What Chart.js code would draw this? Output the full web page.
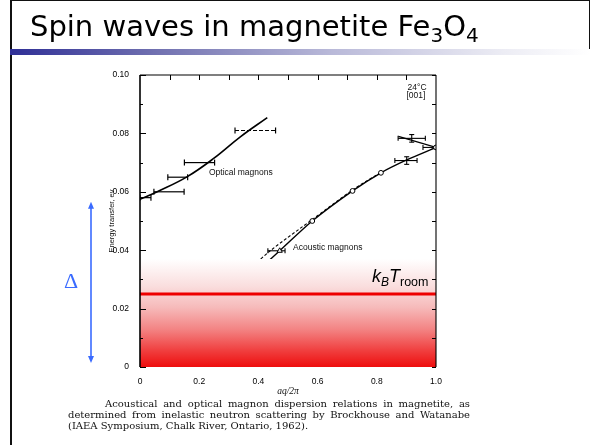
<!DOCTYPE html>
<html>
<head>
<meta charset="utf-8">
<script src="https://cdn.jsdelivr.net/npm/chart.js@4"></script>
<style>
  html, body { margin: 0; padding: 0; background: #fff; }
  #slide { position: relative; width: 600px; height: 445px; overflow: hidden; }
  #chart { position: absolute; left: 0; top: 0; }
  .frame-left { position: absolute; left: 10px; top: 0; width: 2px; height: 445px; background: #111; }
  .frame-top { position: absolute; left: 10px; top: 0; width: 580px; height: 1px; background: #111; }
  .frame-right { position: absolute; left: 589px; top: 0; width: 1px; height: 50px; background: #111; }
  .title-bar {
    position: absolute; left: 10px; top: 49px; width: 580px; height: 6px;
    background: linear-gradient(to right, #2f2f96 0%, #7070b0 25%, #b8b8d8 55%, #ececf4 85%, #ffffff 100%);
  }
  .title {
    position: absolute; left: 30px; top: 9px;
    font-family: "DejaVu Sans", sans-serif; font-size: 29px; color: #000; white-space: nowrap;
  }
  .title sub { font-size: 20px; vertical-align: -6px; line-height: 0; }
  .caption {
    position: absolute; left: 68px; top: 398px; width: 402px;
    font-family: "DejaVu Serif", serif; font-size: 10px; line-height: 11px; color: #111;
  }
  .caption div { white-space: nowrap; text-align: justify; text-align-last: justify; }
  .caption div.first { padding-left: 37px; }
  .caption div.last { text-align-last: left; }
</style>
</head>
<body>
<div id="slide">
  <canvas id="chart" width="600" height="445"></canvas>
  <div class="frame-left"></div>
  <div class="frame-top"></div>
  <div class="frame-right"></div>
  <div class="title-bar"></div>
  <div class="title">Spin waves in magnetite Fe<sub>3</sub>O<sub>4</sub></div>
  <div class="caption">
    <div class="first">Acoustical and optical magnon dispersion relations in magnetite, as</div>
    <div>determined from inelastic neutron scattering by Brockhouse and Watanabe</div>
    <div class="last">(IAEA Symposium, Chalk River, Ontario, 1962).</div>
  </div>
</div>
<script>
// ---- optical branch ----
const opticalCurveX = [0, 0.06, 0.16, 0.25, 0.34, 0.43];
const opticalCurveY = [0.0574, 0.0601, 0.0652, 0.0715, 0.0789, 0.0854];
const opticalPointY = [0.058, 0.060, 0.065, 0.070, 0.081];
const opticalBarLo = [0, 0.047, 0.094, 0.150, 0.321];
const opticalBarHi = [0.037, 0.149, 0.161, 0.252, 0.458];
const opticalBarDashed = [false, false, false, false, true];

// ---- acoustic branch ----
const acousticSolidX = [0.40, 0.472, 0.582, 0.718, 0.814, 0.901, 1.0];
const acousticSolidY = [0.0332, 0.0398, 0.0500, 0.0603, 0.0665, 0.0709, 0.0752];
const acousticDashX = [0.37, 0.44, 0.582, 0.718, 0.814];
const acousticDashY = [0.0335, 0.0398, 0.0505, 0.0606, 0.0667];
const acousticCircleX = [0.582, 0.718, 0.814, 1.0];
const acousticCircleY = [0.0500, 0.0603, 0.0665, 0.0752];
const acousticUpperX = [0.873, 1.0];
const acousticUpperY = [0.0790, 0.0752];
// measured points with bars
const acousticPointX = [0.472, 0.918, 0.901];
const acousticPointY = [0.0398, 0.0783, 0.0707];
const acousticBarLo = [0.432, 0.872, 0.861];
const acousticBarHi = [0.490, 0.964, 0.936];
const acousticErrY = [0, 0.0013, 0.0013];
const edgeBarLo = [0.956];
const edgeBarHi = [0.998];
const edgeBarY = [0.0752];

// ---- thermal energy and gap ----
const kTroom = 0.025;
const thermalFadeTop = 0.037;
const gapEnergy = 0.0566;

// ---- axes ----
const xTicks = [0, 0.2, 0.4, 0.6, 0.8, 1.0];
const yTicks = [0, 0.02, 0.04, 0.06, 0.08, 0.10];

const pts = (xs, ys) => xs.map((x, i) => ({ x: x, y: ys[i] }));

const datasets = [];

// red fade below room temperature line
datasets.push({
    data: [{ x: 0, y: thermalFadeTop }, { x: 1, y: thermalFadeTop }],
    borderWidth: 0, pointRadius: 0, fill: 'origin', order: 1,
    backgroundColor: (ctx) => {
        const chart = ctx.chart;
        if (!chart.chartArea) return 'rgba(0,0,0,0)';
        const y = chart.scales.y;
        const g = chart.ctx.createLinearGradient(0, y.getPixelForValue(0), 0, y.getPixelForValue(thermalFadeTop));
        g.addColorStop(0, 'rgb(238,14,14)');
        g.addColorStop(0.15, 'rgb(240,62,62)');
        g.addColorStop(0.35, 'rgb(243,132,132)');
        g.addColorStop(0.55, 'rgb(246,186,186)');
        g.addColorStop(0.75, 'rgb(250,222,222)');
        g.addColorStop(1, 'rgb(255,255,255)');
        return g;
    },
});
datasets.push({
    data: [{ x: 0, y: kTroom }, { x: 1, y: kTroom }],
    borderColor: '#ee0000', borderWidth: 3, pointRadius: 0, order: 0,
});

// optical curve
datasets.push({
    data: pts(opticalCurveX, opticalCurveY),
    borderColor: '#000', borderWidth: 1.6, pointRadius: 0, tension: 0.4, order: 5,
});
// optical q-resolution bars
opticalPointY.forEach((y, i) => {
    datasets.push({
        data: [{ x: opticalBarLo[i], y: y }, { x: opticalBarHi[i], y: y }],
        borderColor: '#000', borderWidth: 1.2, borderDash: opticalBarDashed[i] ? [4, 2] : [],
        pointStyle: 'line', rotation: 90, pointRadius: 3, pointBorderWidth: 1.2,
        pointBorderColor: '#000', order: 5,
    });
});

// acoustic curves
datasets.push({
    data: pts(acousticSolidX, acousticSolidY),
    borderColor: '#000', borderWidth: 1.4, pointRadius: 0, tension: 0.3, order: 5,
});
datasets.push({
    data: pts(acousticDashX, acousticDashY),
    borderColor: '#000', borderWidth: 1.1, borderDash: [3, 2], pointRadius: 0, tension: 0.3, order: 5,
});
datasets.push({
    data: pts(acousticUpperX, acousticUpperY),
    borderColor: '#000', borderWidth: 1.4, pointRadius: 0, order: 5,
});
datasets.push({
    data: pts(acousticCircleX, acousticCircleY),
    showLine: false, pointStyle: 'circle', pointRadius: 2.4, pointBorderWidth: 1,
    pointBorderColor: '#000', pointBackgroundColor: '#fff', order: 4,
});
// acoustic bars
acousticPointY.forEach((y, i) => {
    const x = acousticPointX[i];
    datasets.push({
        data: [{ x: acousticBarLo[i], y: y }, { x: acousticBarHi[i], y: y }],
        borderColor: '#000', borderWidth: 1.1,
        pointStyle: 'line', rotation: 90, pointRadius: 2.5, pointBorderWidth: 1.1,
        pointBorderColor: '#000', order: 5,
    });
    if (acousticErrY[i] > 0) {
        datasets.push({
            data: [{ x: x, y: y - acousticErrY[i] }, { x: x, y: y + acousticErrY[i] }],
            borderColor: '#000', borderWidth: 1.1,
            pointStyle: 'line', rotation: 0, pointRadius: 2.5, pointBorderWidth: 1.1,
            pointBorderColor: '#000', order: 5,
        });
    }
});
datasets.push({
    data: [{ x: acousticPointX[0], y: acousticPointY[0] }],
    showLine: false, pointStyle: 'triangle', pointRadius: 3, pointBorderWidth: 1,
    pointBorderColor: '#000', pointBackgroundColor: '#fff', order: 4,
});
edgeBarY.forEach((y, i) => {
    datasets.push({
        data: [{ x: edgeBarLo[i], y: y }, { x: edgeBarHi[i], y: y }],
        borderColor: '#000', borderWidth: 1.1,
        pointStyle: 'line', rotation: 90, pointRadius: 2.5, pointBorderWidth: 1.1,
        pointBorderColor: '#000', order: 5,
    });
});

// text written inside the plot, in data units
const notes = [
    { text: 'Optical magnons', x: 0.233, y: 0.0664, align: 'left' },
    { text: 'Acoustic magnons', x: 0.517, y: 0.0408, align: 'left' },
    { text: '24°C', x: 0.936, y: 0.0957, align: 'center' },
    { text: '[001]', x: 0.932, y: 0.0928, align: 'center' },
];

const framePlugin = {
    id: 'frame',
    afterDatasetsDraw(chart) {
        const { ctx, chartArea: a, scales: { x, y } } = chart;
        ctx.save();
        ctx.strokeStyle = '#000';
        // left axis
        ctx.lineWidth = 1.6;
        ctx.beginPath();
        ctx.moveTo(a.left, a.top); ctx.lineTo(a.left, a.bottom);
        ctx.stroke();
        // top and right axes
        ctx.lineWidth = 1.1;
        ctx.beginPath();
        ctx.moveTo(a.left, a.top); ctx.lineTo(a.right, a.top);
        ctx.moveTo(a.right, a.top); ctx.lineTo(a.right, a.bottom);
        ctx.stroke();
        // inward ticks
        ctx.lineWidth = 1;
        ctx.beginPath();
        for (let i = 0; i <= 10; i++) {
            const v = y.min + (y.max - y.min) * i / 10;
            const py = Math.round(y.getPixelForValue(v)) + 0.5;
            const len = i % 2 === 0 ? 6 : 3;
            ctx.moveTo(a.left, py); ctx.lineTo(a.left + len, py);
            ctx.moveTo(a.right, py); ctx.lineTo(a.right - 4, py);
        }
        for (let i = 1; i < 10; i++) {
            const px = Math.round(x.getPixelForValue(i / 10)) + 0.5;
            ctx.moveTo(px, a.top); ctx.lineTo(px, a.top + 5);
        }
        ctx.stroke();

        // notes
        ctx.fillStyle = '#111';
        ctx.font = '8.5px "Liberation Sans", Arial, sans-serif';
        ctx.textBaseline = 'middle';
        notes.forEach((n) => {
            ctx.textAlign = n.align;
            ctx.fillText(n.text, x.getPixelForValue(n.x), y.getPixelForValue(n.y));
        });

        // k_B T_room label
        let px = x.getPixelForValue(0.0) + 232;
        const base = y.getPixelForValue(kTroom) - 12;
        ctx.textAlign = 'left';
        ctx.textBaseline = 'alphabetic';
        ctx.fillStyle = '#000';
        const parts = [
            { t: 'k', f: 'italic 18px "Liberation Sans", Arial', dy: 0 },
            { t: 'B', f: 'italic 12px "Liberation Sans", Arial', dy: 4 },
            { t: 'T', f: 'italic 18px "Liberation Sans", Arial', dy: 0 },
            { t: 'room', f: '12.5px "Liberation Sans", Arial', dy: 4 },
        ];
        parts.forEach((p) => {
            ctx.font = p.f;
            ctx.fillText(p.t, px, base + p.dy);
            px += ctx.measureText(p.t).width;
        });

        // gap arrow with delta symbol
        const blue = '#3a6bff';
        const ax = 91;
        const yTop = y.getPixelForValue(gapEnergy);
        const yBot = y.getPixelForValue(0) - 4;
        ctx.strokeStyle = blue;
        ctx.fillStyle = blue;
        ctx.lineWidth = 1.6;
        ctx.beginPath();
        ctx.moveTo(ax, yTop + 6); ctx.lineTo(ax, yBot - 6);
        ctx.stroke();
        ctx.beginPath();
        ctx.moveTo(ax, yTop); ctx.lineTo(ax - 3, yTop + 7); ctx.lineTo(ax + 3, yTop + 7); ctx.closePath();
        ctx.moveTo(ax, yBot); ctx.lineTo(ax - 3, yBot - 7); ctx.lineTo(ax + 3, yBot - 7); ctx.closePath();
        ctx.fill();
        ctx.font = '22px "Liberation Serif", serif';
        ctx.textAlign = 'center';
        ctx.textBaseline = 'middle';
        ctx.fillText('\u0394', 71, (yTop + yBot) / 2);
        ctx.restore();
    },
};

new Chart(document.getElementById('chart'), {
    type: 'line',
    data: { datasets: datasets },
    options: {
        responsive: false,
        animation: false,
        layout: { padding: { left: 107, right: 164, top: 75, bottom: 48 } },
        plugins: { legend: { display: false }, tooltip: { enabled: false } },
        scales: {
            x: {
                type: 'linear', min: 0, max: 1,
                grid: { display: false }, border: { display: false },
                afterFit: (s) => { s.height = 30; },
                afterBuildTicks: (s) => { s.ticks = xTicks.map((v) => ({ value: v })); },
                ticks: {
                    padding: 2, color: '#000', maxRotation: 0,
                    font: { family: '"Liberation Sans", Arial', size: 8.5 },
                    callback: (v) => (v === 0 ? '0' : v.toFixed(1)),
                },
                title: {
                    display: true, text: 'aq/2\u03c0', color: '#111', padding: 0,
                    font: { family: '"Liberation Serif", serif', style: 'italic', size: 9.5 },
                },
            },
            y: {
                type: 'linear', min: 0, max: 0.1,
                grid: { display: false }, border: { display: false },
                afterFit: (s) => { s.width = 33; },
                afterBuildTicks: (s) => { s.ticks = yTicks.map((v) => ({ value: v })); },
                ticks: {
                    padding: 3, color: '#000',
                    font: { family: '"Liberation Sans", Arial', size: 8.5 },
                    callback: (v) => (v === 0 ? '0' : v.toFixed(2)),
                },
                title: {
                    display: true, text: 'Energy transfer, ev', color: '#111', padding: 0,
                    font: { family: '"Liberation Sans", Arial', size: 7.5 },
                },
            },
        },
    },
    plugins: [framePlugin],
});
</script>
</body>
</html>
